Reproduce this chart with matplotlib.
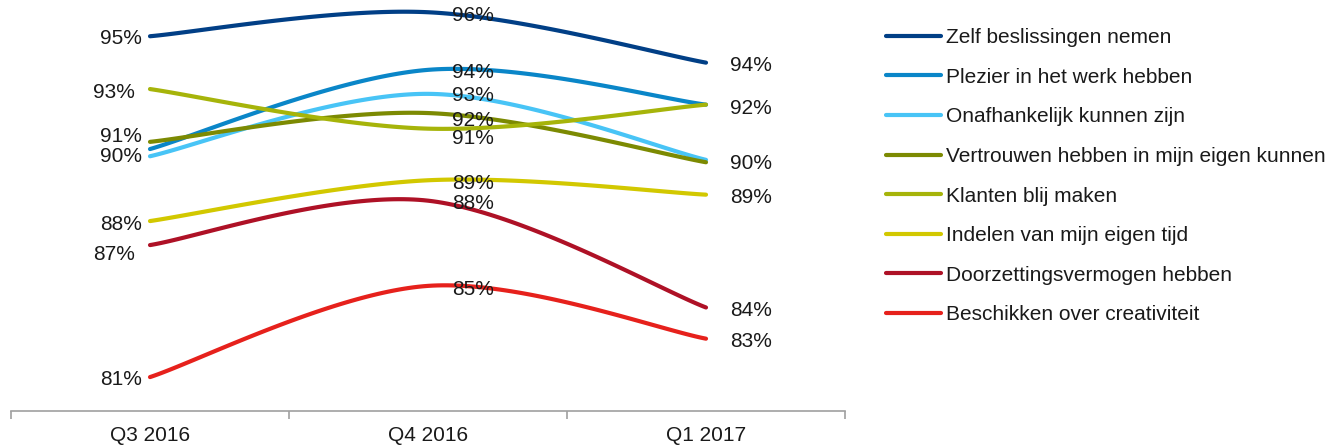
import numpy as np
import matplotlib.pyplot as plt

plt.rcParams['font.family'] = ['Liberation Sans', 'DejaVu Sans']

quarters = ['Q3 2016', 'Q4 2016', 'Q1 2017']
series = ['Zelf beslissingen nemen', 'Plezier in het werk hebben', 'Onafhankelijk kunnen zijn',
          'Vertrouwen hebben in mijn eigen kunnen', 'Klanten blij maken', 'Indelen van mijn eigen tijd',
          'Doorzettingsvermogen hebben', 'Beschikken over creativiteit']
zelf = [95.3, 96.3, 94.2]
plezier = [90.6, 93.9, 92.45]
onafhankelijk = [90.3, 92.9, 90.15]
vertrouwen = [90.9, 92.1, 90.05]
klanten = [93.1, 91.45, 92.45]
indelen = [87.6, 89.3, 88.7]
doorzetting = [86.6, 88.45, 84.0]
creativiteit = [81.1, 84.9, 82.7]
values = [zelf, plezier, onafhankelijk, vertrouwen, klanten, indelen, doorzetting, creativiteit]

colors = ['#013F86', '#0A86C8', '#48C4F6', '#7C8A02', '#A6B40A', '#D2C800', '#AE1126', '#E6211C']

# label offsets in pixels (dx, dy downward) per point
label_dx = [[-8, 24, 24] for _ in range(8)]
label_dx[4][0] = -15
label_dx[6][0] = -15
label_dy = [[2, 3, 3], [-12.4, 3, 4], [0, 2, 4.1], [-5.2, 7, 1.7], [3, 10, 4], [3, 3, 3], [9, 3, 3], [2, 4, 3]]


def smooth(ys, n=60):
    pts = np.array([[i, y] for i, y in enumerate(ys)], dtype=float)
    out = []
    for i in range(len(pts) - 1):
        p0 = pts[i - 1] if i > 0 else pts[i]
        p1, p2 = pts[i], pts[i + 1]
        p3 = pts[i + 2] if i + 2 < len(pts) else pts[i + 1]
        c1 = p1 + (p2 - p0) / 6
        c2 = p2 - (p3 - p1) / 6
        t = np.linspace(0, 1, n)[:, None]
        seg = (1 - t) ** 3 * p1 + 3 * (1 - t) ** 2 * t * c1 + 3 * (1 - t) * t ** 2 * c2 + t ** 3 * p2
        out.append(seg)
    out = np.vstack(out)
    return out[:, 0], out[:, 1]


fig = plt.figure(figsize=(13.37, 4.46), dpi=100)
ax = fig.add_axes([11 / 1337, 35.3 / 446, 834 / 1337, 410.7 / 446])

for name, vals, col in zip(series, values, colors):
    sx, sy = smooth(vals)
    ax.plot(sx, sy, color=col, lw=3, solid_capstyle='round', label=name)

# labels that coincide (same text, same spot) are drawn once
drawn = set()
for k, vals in enumerate(values):
    for i, v in enumerate(vals):
        txt = f'{round(v)}%'
        if (i, txt) in drawn:
            continue
        drawn.add((i, txt))
        ha = 'right' if i == 0 else 'left'
        ax.annotate(txt, (i, v), xytext=(label_dx[k][i], -label_dy[k][i]),
                    textcoords='offset pixels', ha=ha, va='center', fontsize=15, color='#1a1a1a')

ax.set_xlim(-0.5, 2.5)
ax.set_ylim(79.7, 96.81)
ax.set_xticks([0, 1, 2])
ax.set_xticklabels(quarters, fontsize=15, color='#1a1a1a')
ax.set_xticks([-0.5, 0.5, 1.5, 2.5], minor=True)
ax.tick_params(axis='x', which='major', length=0, pad=11)
ax.tick_params(axis='x', which='minor', length=6, color='#A0A0A0', width=1.2)
ax.set_yticks([])
for s in ['top', 'right', 'left']:
    ax.spines[s].set_visible(False)
ax.spines['bottom'].set_color('#A0A0A0')
ax.spines['bottom'].set_linewidth(1.2)

leg = fig.legend(loc='upper left', bbox_to_anchor=(886 / 1337, 1 - 28 / 446), frameon=False,
                 fontsize=15, handlelength=2.64, handletextpad=0.24, labelspacing=0.99,
                 borderaxespad=0, borderpad=0)
for t in leg.get_texts():
    t.set_color('#1a1a1a')

fig.savefig('out.png', dpi=100)
